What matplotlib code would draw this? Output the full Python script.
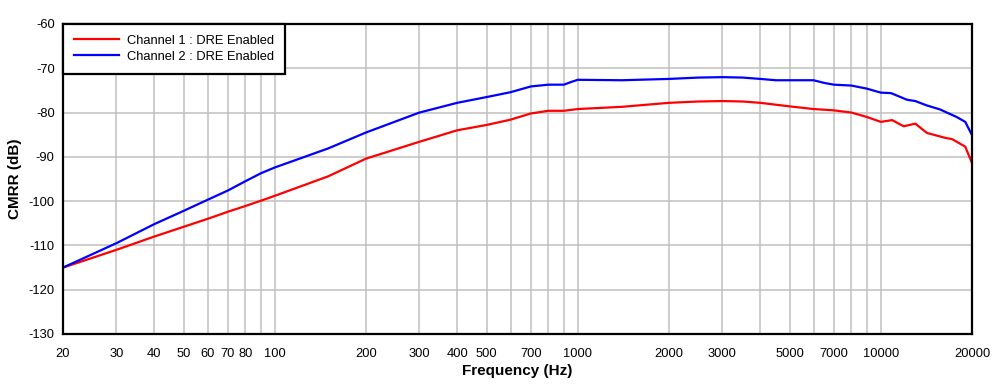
import matplotlib.pyplot as plt
from matplotlib.ticker import FixedLocator, NullFormatter

# data
freq_ch1 = [20, 30, 40, 50, 60, 70, 80, 90, 100, 150, 200, 300, 400, 500, 600, 700, 800, 900,
            1000, 1400, 2000, 2500, 3000, 3500, 4000, 5000, 6000, 7000, 8000, 9000, 10000,
            10900, 11900, 13000, 14200, 16300, 17200, 19000, 20000]
cmrr_ch1 = [-115.0, -111.0, -108.0, -105.8, -104.0, -102.4, -101.1, -99.9, -98.8, -94.4, -90.4,
            -86.6, -84.0, -82.8, -81.6, -80.2, -79.6, -79.6, -79.2, -78.7, -77.8, -77.5, -77.4,
            -77.5, -77.8, -78.6, -79.2, -79.5, -80.0, -81.0, -82.1, -81.7, -83.1, -82.5, -84.6,
            -85.7, -86.0, -87.7, -91.4]

freq_ch2 = [20, 30, 40, 50, 60, 70, 80, 90, 100, 150, 200, 300, 400, 500, 600, 700, 800, 900,
            950, 1000, 1400, 2000, 2500, 3000, 3500, 4000, 4500, 6000, 6500, 7000, 8000, 9000,
            10000, 10800, 12200, 13000, 14200, 15700, 16400, 17800, 19000, 20000]
cmrr_ch2 = [-115.0, -109.5, -105.2, -102.2, -99.7, -97.6, -95.5, -93.7, -92.4, -88.1, -84.5,
            -80.0, -77.8, -76.5, -75.4, -74.1, -73.7, -73.7, -73.1, -72.6, -72.7, -72.4, -72.1,
            -72.0, -72.1, -72.4, -72.7, -72.7, -73.3, -73.7, -73.9, -74.6, -75.5, -75.6, -77.1,
            -77.4, -78.4, -79.3, -79.9, -81.0, -82.1, -85.1]

labels = ["Channel 1 : DRE Enabled", "Channel 2 : DRE Enabled"]
xtick_vals = [20, 30, 40, 50, 60, 70, 80, 100, 200, 300, 400, 500, 700, 1000,
              2000, 3000, 5000, 7000, 10000, 20000]
ytick_vals = [-130, -120, -110, -100, -90, -80, -70, -60]

plt.rcParams['font.family'] = ['Liberation Sans', 'DejaVu Sans']

fig = plt.figure(figsize=(10.06, 3.87), dpi=100)
ax = fig.add_axes([63/1006, 53/387, 909/1006, 310/387])

ax.plot(freq_ch1, cmrr_ch1, color="#ff0000", lw=1.6, label=labels[0])
ax.plot(freq_ch2, cmrr_ch2, color="#0000ff", lw=1.6, label=labels[1])

ax.set_xscale("log")
ax.set_xlim(20, 20000)
ax.set_ylim(-130, -60)

# grid on every 1..9 step of each decade, labels only on some
grid_x = [m * 10**d for d in range(1, 5) for m in range(1, 10) if 20 <= m * 10**d <= 20000]
ax.xaxis.set_major_locator(FixedLocator(xtick_vals))
ax.xaxis.set_minor_locator(FixedLocator(grid_x))
ax.xaxis.set_minor_formatter(NullFormatter())
ax.set_xticks(xtick_vals)
ax.set_xticklabels([str(v) for v in xtick_vals])
ax.set_yticks(ytick_vals)
ax.set_yticklabels([str(v) for v in ytick_vals])
ax.tick_params(which="both", length=0, labelsize=9.3)
ax.tick_params(axis="x", pad=10)
ax.tick_params(axis="y", pad=6)

ax.grid(True, which="both", axis="x", color="#c0c0c0", lw=1.1)
ax.grid(True, which="major", axis="y", color="#c0c0c0", lw=1.1)
ax.set_axisbelow(True)

for s in ax.spines.values():
    s.set_linewidth(1.6)
    s.set_color("black")

ax.set_xlabel("Frequency (Hz)", fontsize=11, fontweight="bold", labelpad=3)
ax.set_ylabel("CMRR (dB)", fontsize=11, fontweight="bold", labelpad=5)

leg = ax.legend(loc="upper left", fontsize=9.3, frameon=True, fancybox=False,
                borderaxespad=0, handlelength=3.5, handletextpad=0.6,
                labelspacing=0.3, borderpad=0.85)
leg.get_frame().set_edgecolor("black")
leg.get_frame().set_linewidth(1.6)
leg.get_frame().set_alpha(1)

fig.savefig("out.png", dpi=100)
